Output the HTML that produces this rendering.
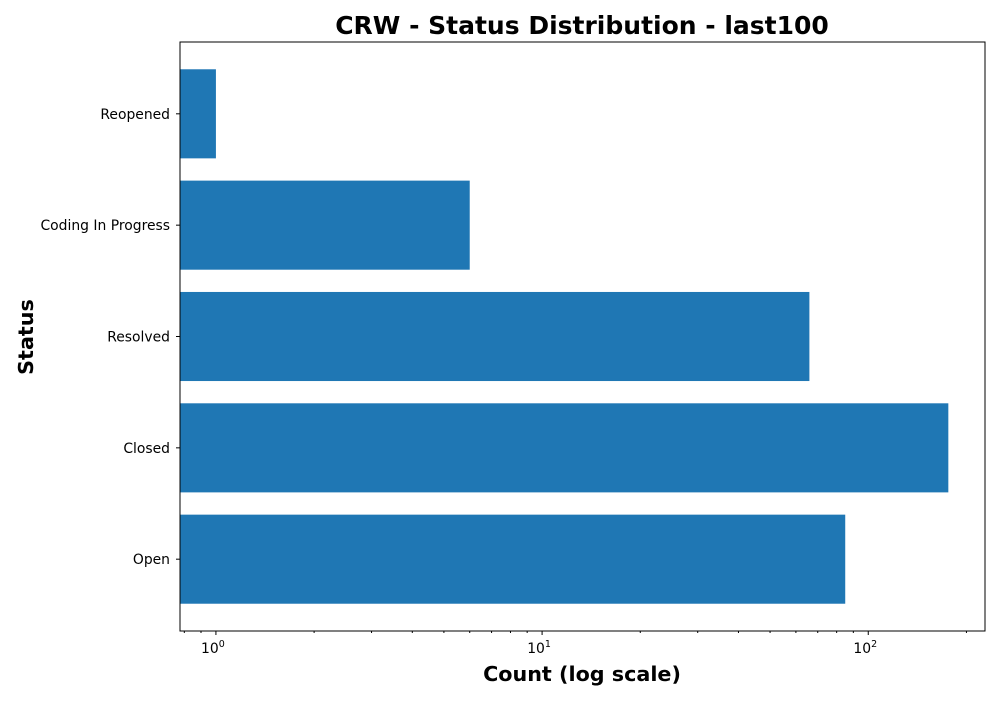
<!DOCTYPE html>
<html><head><meta charset="utf-8"><style>
body{margin:0;background:#fff;font-family:"DejaVu Sans","Liberation Sans",sans-serif;}
</style></head><body>
<svg width="1000" height="700" xmlns="http://www.w3.org/2000/svg" font-family="DejaVu Sans, Liberation Sans, sans-serif">
<text x="582" y="34" text-anchor="middle" font-size="25" font-weight="bold">CRW - Status Distribution - last100</text>
<text x="582" y="681" text-anchor="middle" font-size="20.7" font-weight="bold">Count (log scale)</text>
<text transform="translate(33,337) rotate(-90)" text-anchor="middle" font-size="20.7" font-weight="bold">Status</text>
<g id="bars"></g>
<g id="axes"></g>
<rect x="180" y="42" width="805" height="589" fill="none" stroke="#000" stroke-width="1"/>
</svg>
<script>
const categories=["Reopened","Coding In Progress","Resolved","Closed","Open"];
const counts=[1,6,66,176,85];
const tickLabels=["0","1","2"];
const L=180,R=985,T=42,B=631,xmin=0.776,xmax=228;
const NS="http://www.w3.org/2000/svg";
function x(v){return L+(Math.log10(v)-Math.log10(xmin))/(Math.log10(xmax)-Math.log10(xmin))*(R-L);}
const n=categories.length,pad=0.645;
function yc(i){return T+(i+pad)/(n-1+2*pad)*(B-T);}
const bh=(B-T)/(n-1+2*pad)*0.8;
const bars=document.getElementById('bars'),axes=document.getElementById('axes');
function mk(t,a,p){const e=document.createElementNS(NS,t);for(const k in a)e.setAttribute(k,a[k]);p.appendChild(e);return e;}
categories.forEach((c,i)=>{
 const r=mk('rect',{x:L,y:yc(i)-bh/2,width:x(counts[i])-L,height:bh,fill:'#1f77b4'},bars);
 
 
 mk('line',{x1:L-4,x2:L,y1:yc(i),y2:yc(i),stroke:'#000'},axes);
 const t=mk('text',{x:L-10,y:yc(i)+5,'text-anchor':'end','font-size':13.9},axes);
 t.textContent=c;
 
 
});
tickLabels.forEach(p=>{
 const xv=x(Math.pow(10,+p));
 mk('line',{x1:xv,x2:xv,y1:B,y2:B+4,stroke:'#000'},axes);
 const t=mk('text',{x:xv-3,y:B+22,'text-anchor':'middle','font-size':13.9},axes);
 t.innerHTML='10<tspan dy="-6" font-size="9.5">'+p+'</tspan>';
 
 
});
for(let d=-1;d<=2;d++)for(let m=2;m<=9;m++){const v=m*Math.pow(10,d);if(v<xmin||v>xmax)continue;const xv=x(v);mk('line',{x1:xv,x2:xv,y1:B,y2:B+2,stroke:'#000'},axes);}
</script>
</body></html>
